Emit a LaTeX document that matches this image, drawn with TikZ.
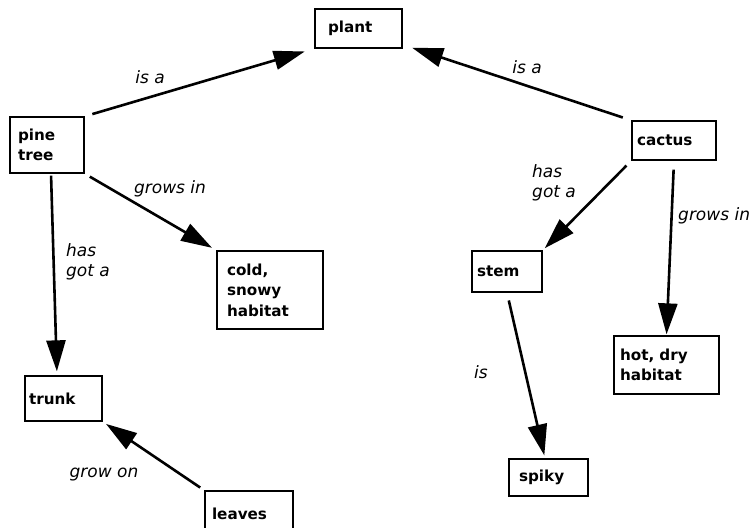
\documentclass[tikz,border=0pt]{standalone}
\usepackage{fontspec}
\setsansfont{DejaVu Sans}
\usetikzlibrary{arrows.meta}

\begin{document}
\begin{tikzpicture}[x=1pt, y=-1pt,
        concept/.style={draw, rectangle, line width=1.3pt, align=left, inner ysep=0pt,
            font=\sffamily\bfseries\fontsize{15.2}{20.5}\selectfont},
        link/.style={line width=2.6pt, -{Triangle[length=31pt, width=19pt]}},
        lbl/.style={inner sep=0pt, align=left, font=\sffamily\itshape\fontsize{17}{20}\selectfont}]
        \useasboundingbox (0,0) rectangle (754,527);
        % concepts
        \node[concept, minimum width=87pt, minimum height=39pt, text width=61pt, inner xsep=13pt] (plant) at (358.5,28.5) {plant};
        \node[concept, minimum width=74pt, minimum height=56pt, text width=58pt, inner xsep=8pt] (pinetree) at (47,145) {pine\\tree};
        \node[concept, minimum width=106pt, minimum height=78pt, text width=86pt, inner xsep=10pt] (cold) at (270,290) {cold,\\snowy\\habitat};
        \node[concept, minimum width=77pt, minimum height=45pt, text width=69pt, inner xsep=4pt] (trunk) at (63.5,398.5) {trunk};
        \node[concept, minimum width=88pt, minimum height=45pt, text width=74pt, inner xsep=7pt] (leaves) at (249,513.5) {leaves};
        \node[concept, minimum width=84pt, minimum height=39pt, text width=74pt, inner xsep=5pt] (cactus) at (674,140.5) {cactus};
        \node[concept, minimum width=70pt, minimum height=41pt, text width=60pt, inner xsep=5pt] (stem) at (507,271.5) {stem};
        \node[concept, minimum width=105pt, minimum height=58pt, text width=93pt, inner xsep=6pt] (hotdry) at (666.5,365) {hot, dry\\habitat};
        \node[concept, minimum width=79pt, minimum height=37pt, text width=59pt, inner xsep=10pt] (spiky) at (548.5,477.5) {spiky};
        % links
        \draw[link, shorten <=8pt, shorten >=10pt] (pinetree.north east) -- (plant.south west);
        \draw[link, shorten <=9pt, shorten >=10pt] (cactus.north west) -- ([yshift=4pt]plant.south east);
        \draw[link, shorten <=6pt, shorten >=5pt] (pinetree.south east) -- (cold.north west);
        \draw[link, shorten <=2pt, shorten >=4pt] ([xshift=4pt]pinetree.south) -- ([xshift=-6.5pt]trunk.north);
        \draw[link, shorten <=5pt, shorten >=4pt] (leaves.north west) -- (trunk.south east);
        \draw[link, shorten <=7pt, shorten >=3pt] (cactus.south west) -- (stem.north east);
        \draw[link, shorten <=9pt, shorten >=1pt] (cactus.south) -- (hotdry.north);
        \draw[link, shorten <=8pt, shorten >=3pt] (stem.south) -- ([xshift=-3.5pt]spiky.north);
        % link labels
        \node[lbl] (isa1) at (150,77) {is a};
        \node[lbl] (isa2) at (527,67) {is a};
        \node[lbl] (growsin1) at (170,189) {grows in};
        \node[lbl, anchor=west] (hasgot1) at (66,262) {has\\got a};
        \node[lbl, anchor=west] (hasgot2) at (532,183) {has\\got a};
        \node[lbl, anchor=west] (growsin2) at (678,216) {grows in};
        \node[lbl] (is) at (481,372) {is};
        \node[lbl] (growon) at (104,475) {grow on};
\end{tikzpicture}
\end{document}
